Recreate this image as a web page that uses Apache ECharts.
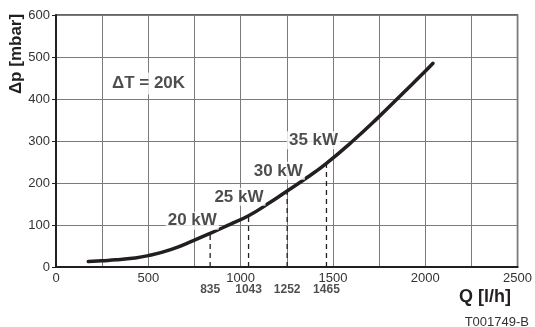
<!DOCTYPE html>
<html>
<head>
<meta charset="utf-8">
<script src="https://cdn.jsdelivr.net/npm/echarts@6/dist/echarts.min.js"></script>
<style>
html,body{margin:0;padding:0;background:#fff;}
#chart{width:535px;height:327px;}
</style>
</head>
<body>
<div id="chart"></div>
<script>
// Curve: Q [l/h] vs Δp [mbar]
const curveQ = [175, 250, 325, 400, 500, 625, 750, 835, 940, 1043, 1150, 1252, 1360, 1465, 1600, 1750, 1875, 2000, 2042];
const curveP = [13, 15, 17, 20, 27, 42, 64, 80, 101, 122, 151, 181, 213, 247, 297, 358, 412, 466, 485];

// Marked operating points
const markQ = [835, 1043, 1252, 1465];
const markP = [80, 122, 181, 247];
const markNames = ['20 kW', '25 kW', '30 kW', '35 kW'];
// label anchor positions (data coords)
const labelQ = [738, 991, 1204, 1395];
const labelP = [110, 167, 229, 302];

const xTicks = [0, 500, 1000, 1500, 2000, 2500];
const yTicks = [0, 100, 200, 300, 400, 500, 600];

const noteText = '\u0394T = 20K';
const notePos = [501, 437];
const yName = '\u0394p [mbar]';
const xName = 'Q [l/h]';
const codeText = 'T001749-B';

const chart = echarts.init(document.getElementById('chart'), null, {renderer: 'canvas'});
const ink = '#231f20';
const FONT = '"Liberation Sans", Arial, sans-serif';

const series = [];
series.push({
  type: 'line',
  data: curveQ.map((q, i) => [q, curveP[i]]),
  smooth: 0.5,
  showSymbol: false,
  lineStyle: {color: ink, width: 3.5, cap: 'round'},
  z: 5
});
markQ.forEach((q, i) => {
  series.push({
    type: 'line',
    data: [[q, 0], [q, markP[i]]],
    showSymbol: false,
    lineStyle: {color: ink, width: 1.3, type: [5, 4]},
    z: 3
  });
});
// bold value labels below axis
series.push({
  type: 'scatter',
  data: markQ.map(q => [q, 0]),
  symbolSize: 0,
  clip: false,
  label: {
    show: true,
    position: 'bottom',
    distance: 17,
    formatter: p => String(p.value[0]),
    fontFamily: FONT, fontWeight: 'bold', fontSize: 12, color: ink
  },
  z: 6
});
// kW labels
series.push({
  type: 'scatter',
  data: labelQ.map((q, i) => ({value: [q, labelP[i]], name: markNames[i]})),
  symbolSize: 0,
  label: {
    show: true,
    position: 'inside',
    formatter: p => p.name,
    fontFamily: FONT, fontWeight: 'bold', fontSize: 17, color: ink,
    backgroundColor: '#fff', padding: [1, 2, 0, 2]
  },
  z: 7
});
// ΔT note
series.push({
  type: 'scatter',
  data: [{value: notePos, name: noteText}],
  symbolSize: 0,
  label: {
    show: true,
    position: 'inside',
    formatter: p => p.name,
    fontFamily: FONT, fontWeight: 'bold', fontSize: 17, color: ink,
    backgroundColor: '#fff', padding: [3, 3, 2, 3]
  },
  z: 7
});

chart.setOption({
  animation: false,
  backgroundColor: '#fff',
  grid: {left: 56, right: 15, top: 15, bottom: 60, show: true, borderColor: '#333', borderWidth: 1.5},
  xAxis: {
    type: 'value', min: xTicks[0], max: xTicks[xTicks.length - 1], interval: 250,
    axisLine: {show: true, lineStyle: {color: ink, width: 2}},
    axisTick: {show: false},
    axisLabel: {
      margin: 5, color: '#333', fontFamily: FONT, fontSize: 13,
      formatter: v => (xTicks.indexOf(v) >= 0 ? String(v) : '')
    },
    splitLine: {show: true, lineStyle: {color: '#7a7a7a', width: 1}}
  },
  yAxis: {
    type: 'value', min: yTicks[0], max: yTicks[yTicks.length - 1], interval: 100,
    axisLine: {show: true, lineStyle: {color: ink, width: 2}},
    axisTick: {show: true, inside: false, length: 4, lineStyle: {color: ink}},
    axisLabel: {margin: 6, color: '#333', fontFamily: FONT, fontSize: 13, formatter: v => String(v)},
    splitLine: {show: true, lineStyle: {color: '#7a7a7a', width: 1}}
  },
  graphic: [
    {type: 'text', x: 16, y: 54, rotation: Math.PI / 2,
      style: {text: yName, fontFamily: FONT, fontWeight: 'bold', fontSize: 17, fill: ink, align: 'center', verticalAlign: 'middle'}},
    {type: 'text', x: 511, y: 297,
      style: {text: xName, fontFamily: FONT, fontWeight: 'bold', fontSize: 18, fill: ink, align: 'right', verticalAlign: 'middle'}},
    {type: 'text', x: 529, y: 322,
      style: {text: codeText, fontFamily: FONT, fontSize: 13, fill: '#333', align: 'right', verticalAlign: 'middle'}}
  ],
  series: series
});
</script>
</body>
</html>
